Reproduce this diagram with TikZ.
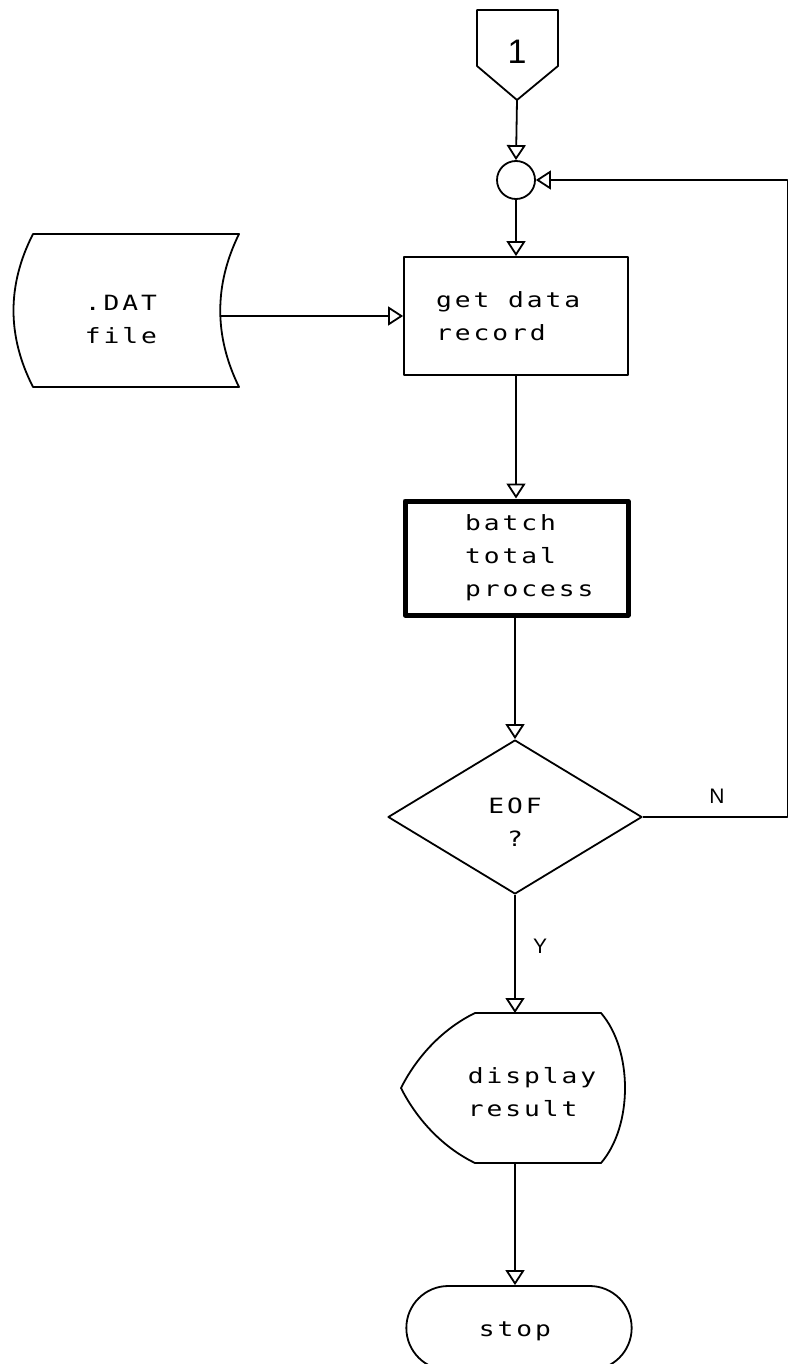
\documentclass[tikz,border=0pt]{standalone}
\usepackage{fontspec}
\setmainfont{Liberation Sans}
\newfontfamily\plotfont[FakeStretch=1.25, LetterSpace=14]{DejaVu Sans Mono}
\usetikzlibrary{arrows.meta,shapes.geometric,shapes.misc}

\tikzset{
  outline/.style={draw, line width=1.8pt},
  flow/.style={line width=1.8pt, -{Triangle[open,length=15pt,width=19pt]}},
  txt/.style={font=\plotfont\fontsize{21}{33}\selectfont, align=left, inner sep=0pt},
  procbox/.style={outline, rectangle, inner sep=0pt},
  yn/.style={font=\fontsize{21}{21}\selectfont, inner sep=0pt}
}

\begin{document}
\begin{tikzpicture}[x=1pt, y=-1pt, line join=round]
  \clip (0,0) rectangle (788,1364);

  % off-page connector
  \draw[outline] (477,10) -- (558,10) -- (558,66) -- (517,100) -- (477,66) -- cycle;
  \node[font=\fontsize{34}{34}\selectfont, inner sep=0pt] (one) at (517,52) {1};
  \coordinate (onetip) at (517,100);

  % junction
  \node[outline, circle, minimum size=38pt, inner sep=0pt] (join) at (516,180) {};

  % stored data file
  \draw[outline] (33,234) -- (239,234)
    .. controls (214,285) and (214,336) .. (239,387)
    -- (33,387)
    .. controls (7,336) and (7,285) .. (33,234) -- cycle;
  \node[txt] (dat) at (121,319) {.DAT\\file};
  \coordinate (datR) at (220,316);

  % process boxes
  \node[procbox, minimum width=224pt, minimum height=118pt] (get) at (516,316) {};
  \node[txt, anchor=west] (gett) at (436,316) {get data\\record};
  \node[procbox, line width=5pt, minimum width=223pt, minimum height=114pt] (batch) at (516.5,558) {};
  \node[txt, anchor=west] (batcht) at (465,558) {batch\\total\\process};

  % decision
  \node[diamond, outline, minimum width=254pt, minimum height=154pt] (eof) at (515,817) {};
  \node[txt, align=center] (eoft) at (515,822) {EOF\\?};

  % display
  \draw[outline] (475,1013) -- (601,1013)
    .. controls (633,1050) and (633,1126) .. (601,1163)
    -- (475,1163)
    .. controls (440,1146) and (415,1116) .. (401,1088)
    .. controls (415,1060) and (440,1030) .. (475,1013) -- cycle;
  \node[txt] (disp) at (532,1092) {display\\result};
  \coordinate (disptop) at (515,1013);
  \coordinate (dispbot) at (515,1163);

  % terminal
  \node[rounded rectangle, outline, minimum width=232pt, minimum height=84pt] (stop) at (519,1328) {};
  \node[txt] (stopt) at (515,1331) {stop};

  % loop-back corners
  \coordinate (rb) at (787.5,817);
  \coordinate (rt) at (787.5,180);

  % connectors
  \draw[flow] (onetip) -- (join.north);
  \draw[flow] (join.south) -- (get.north);
  \draw[flow] (datR) -- (get.west);
  \draw[flow] (get.south) -- (get.south |- batch.north);
  \draw[flow] (eof.north |- batch.south) -- (eof.north);
  \draw[flow] (eof.south) -- (disptop);
  \draw[flow] (dispbot) -- (dispbot |- stop.north);
  \draw[flow] (eof.east) -- (rb) -- (rt) -- (join.east);

  % branch labels
  \node[yn] (ln) at (717,796) {N};
  \node[yn] (ly) at (540,946) {Y};
\end{tikzpicture}
\end{document}
